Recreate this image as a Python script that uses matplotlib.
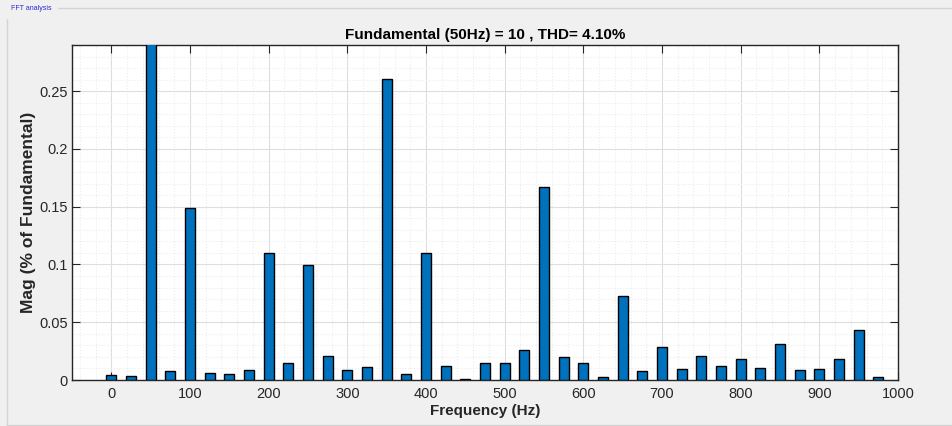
import matplotlib.pyplot as plt
from matplotlib.ticker import AutoMinorLocator, MultipleLocator
from matplotlib.lines import Line2D

freqs = [0, 25, 50, 75, 100, 125, 150, 175, 200, 225, 250, 275, 300, 325, 350, 375,
         400, 425, 450, 475, 500, 525, 550, 575, 600, 625, 650, 675, 700, 725, 750,
         775, 800, 825, 850, 875, 900, 925, 950, 975]
mags = [0.004, 0.0034, 100, 0.008, 0.149, 0.006, 0.0049, 0.0083, 0.110, 0.0149,
        0.0994, 0.0206, 0.0089, 0.0111, 0.261, 0.0049, 0.110, 0.0117, 0.001, 0.0143,
        0.0151, 0.0263, 0.1669, 0.0197, 0.0149, 0.0026, 0.0729, 0.0074, 0.0287, 0.0097,
        0.0209, 0.012, 0.018, 0.0106, 0.0314, 0.0089, 0.0091, 0.0183, 0.0429, 0.0029]

plt.rcParams['font.family'] = ['Liberation Sans', 'DejaVu Sans']

fig = plt.figure(figsize=(9.52, 4.26), dpi=100, facecolor='#f0f0f0')

# panel frame
fig.add_artist(Line2D([7/952, 1], [1-8/426, 1-8/426], color='#d4d4d4', lw=1))
fig.add_artist(Line2D([7/952, 7/952], [1-8/426, 0.002], color='#d4d4d4', lw=1))
fig.add_artist(Line2D([7/952, 1], [0.002, 0.002], color='#d4d4d4', lw=1))
fig.text(11/952, 1-9/426, "FFT analysis", fontsize=5, color='#2a2ad0',
         va='center', ha='left', backgroundcolor='#f0f0f0')

ax = fig.add_axes([72/952, 1-380/426, 826/952, 335/426])
ax.set_facecolor('white')
ax.bar(freqs, mags, width=13, color='#0072BD', edgecolor='black', linewidth=1, zorder=3)

ax.set_xlim(-50, 1000)
ax.set_ylim(0, 0.29)
ax.xaxis.set_major_locator(MultipleLocator(100))
ax.yaxis.set_major_locator(MultipleLocator(0.05))
ax.xaxis.set_minor_locator(AutoMinorLocator(5))
ax.yaxis.set_minor_locator(AutoMinorLocator(5))
ax.yaxis.set_major_formatter(plt.FuncFormatter(lambda v, p: '%g' % round(v, 3)))

ax.grid(which='major', color='#dedede', linewidth=0.8, zorder=0)
ax.grid(which='minor', color='#ececec', linestyle=':', linewidth=0.8, zorder=0)
ax.tick_params(which='major', direction='in', top=True, right=True, length=6,
               labelsize=10.5, colors='#262626', pad=3)
ax.tick_params(axis='x', which='major', pad=5)
ax.tick_params(which='minor', length=0)
for s in ax.spines.values():
    s.set_color('#262626')
    s.set_linewidth(1)

ax.set_title("Fundamental (50Hz) = 10 , THD= 4.10%", fontsize=11, fontweight='bold', pad=4)
ax.set_xlabel("Frequency (Hz)", fontsize=11, fontweight='bold', color='#262626', labelpad=2)
ax.set_ylabel("Mag (% of Fundamental)", fontsize=12.5, fontweight='bold', color='#262626', labelpad=2)

fig.savefig('out.png', dpi=100, facecolor=fig.get_facecolor())
